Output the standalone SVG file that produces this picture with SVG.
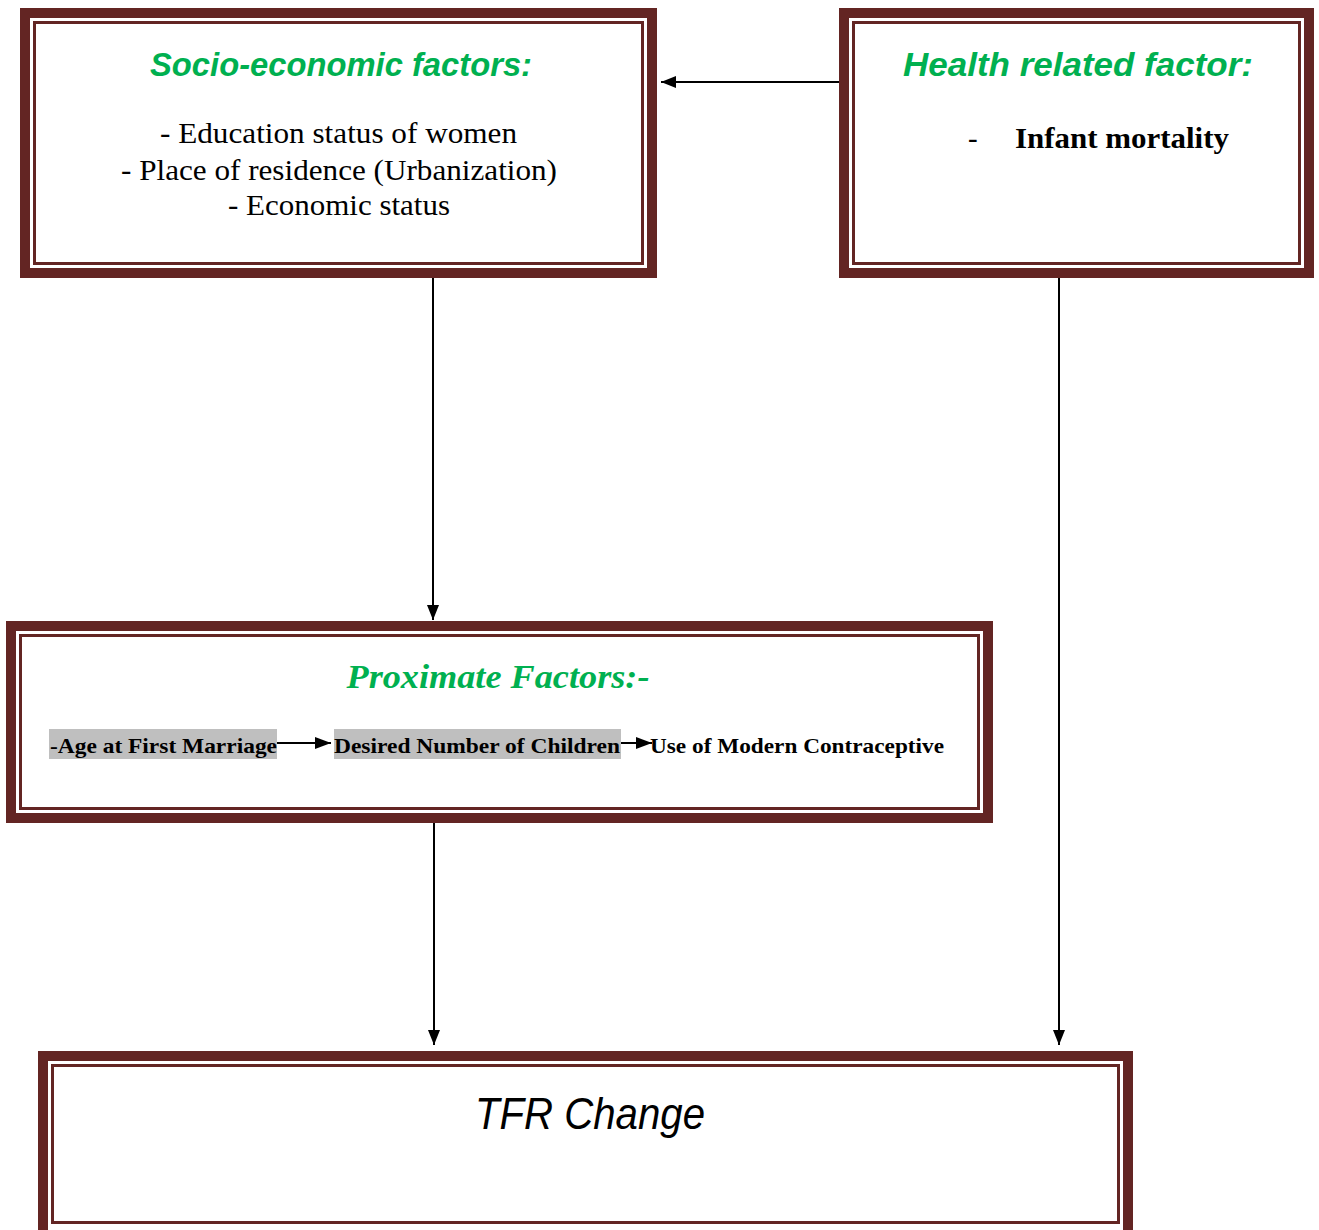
<svg xmlns="http://www.w3.org/2000/svg" width="1319" height="1230" viewBox="0 0 1319 1230">
<style>
.band{fill:none;stroke:#632523;stroke-width:10}
.thin{fill:none;stroke:#632523;stroke-width:3}
.head{font-family:"Liberation Sans Narrow","Liberation Sans",sans-serif;font-weight:bold;font-style:italic;fill:#00B050;font-size:33px}
.body{font-family:"Liberation Serif",serif;font-size:29px;fill:#000}
.bold{font-family:"Liberation Serif",serif;font-weight:bold;fill:#000}
.hl{fill:#BFBFBF}
.conn{stroke:#000;stroke-width:2;fill:none}
</style>
<defs>
<marker id="arr" markerWidth="15" markerHeight="12" refX="15" refY="6" orient="auto" markerUnits="userSpaceOnUse">
<path d="M0,0 L15,6 L0,12 Z" fill="#000"/>
</marker>
<marker id="arrs" markerWidth="16" markerHeight="12" refX="16" refY="6" orient="auto" markerUnits="userSpaceOnUse">
<path d="M0,0 L16,6 L0,12 Z" fill="#000"/>
</marker>
</defs>
<rect width="1319" height="1230" fill="#fff"/>

<g id="connectors">
<line class="conn" x1="848" y1="82" x2="661" y2="82" marker-end="url(#arr)"/>
<line class="conn" x1="433" y1="270" x2="433" y2="620" marker-end="url(#arr)"/>
<line class="conn" x1="1059" y1="270" x2="1059" y2="1045" marker-end="url(#arr)"/>
<line class="conn" x1="434" y1="815" x2="434" y2="1045" marker-end="url(#arr)"/>
</g>

<g id="socio">
<rect class="band" x="25" y="13" width="627" height="260" fill="#fff"/>
<rect class="thin" x="34.5" y="22.5" width="608" height="241"/>
<text class="head" x="341" y="76" text-anchor="middle" textLength="382" lengthAdjust="spacingAndGlyphs">Socio-economic factors:</text>
<text class="body" x="160" y="143" textLength="357" lengthAdjust="spacingAndGlyphs">- Education status of women</text>
<text class="body" x="121" y="180" textLength="436" lengthAdjust="spacingAndGlyphs">- Place of residence (Urbanization)</text>
<text class="body" x="228" y="215" textLength="222" lengthAdjust="spacingAndGlyphs">- Economic status</text>
</g>

<g id="health">
<rect class="band" x="844" y="13" width="465" height="260" fill="#fff"/>
<rect class="thin" x="853.5" y="22.5" width="446" height="241"/>
<text class="head" x="1078" y="76" text-anchor="middle" textLength="350" lengthAdjust="spacingAndGlyphs">Health related factor:</text>
<text class="body" x="968" y="148">-</text>
<text class="bold" x="1015" y="148" font-size="30" textLength="214" lengthAdjust="spacingAndGlyphs">Infant mortality</text>
</g>

<g id="proximate">
<rect class="band" x="11" y="626" width="977" height="192" fill="#fff"/>
<rect class="thin" x="20.5" y="635.5" width="958" height="173"/>
<text class="bold" x="498" y="688" font-size="33" font-style="italic" style="fill:#00B050" text-anchor="middle" textLength="303" lengthAdjust="spacingAndGlyphs">Proximate Factors:-</text>
<rect class="hl" x="49" y="729" width="228" height="30"/>
<rect class="hl" x="334" y="729" width="287" height="30"/>
<text class="bold" x="50" y="753" font-size="21" textLength="227" lengthAdjust="spacingAndGlyphs">-Age at First Marriage</text>
<line class="conn" x1="277" y1="743" x2="331" y2="743" marker-end="url(#arrs)"/>
<text class="bold" x="334" y="753" font-size="21" textLength="286" lengthAdjust="spacingAndGlyphs">Desired Number of Children</text>
<line class="conn" x1="621" y1="743" x2="652" y2="743" marker-end="url(#arrs)"/>
<text class="bold" x="650" y="753" font-size="21" textLength="294" lengthAdjust="spacingAndGlyphs">Use of Modern Contraceptive</text>
</g>

<g id="tfr">
<rect class="band" x="43" y="1056" width="1085" height="180" fill="#fff"/>
<rect class="thin" x="52.5" y="1065.5" width="1066" height="157"/>
<text x="590" y="1129" text-anchor="middle" font-family="Liberation Sans Narrow, Liberation Sans, sans-serif" font-style="italic" font-size="44" fill="#000" textLength="230" lengthAdjust="spacingAndGlyphs">TFR Change</text>
</g>
</svg>
